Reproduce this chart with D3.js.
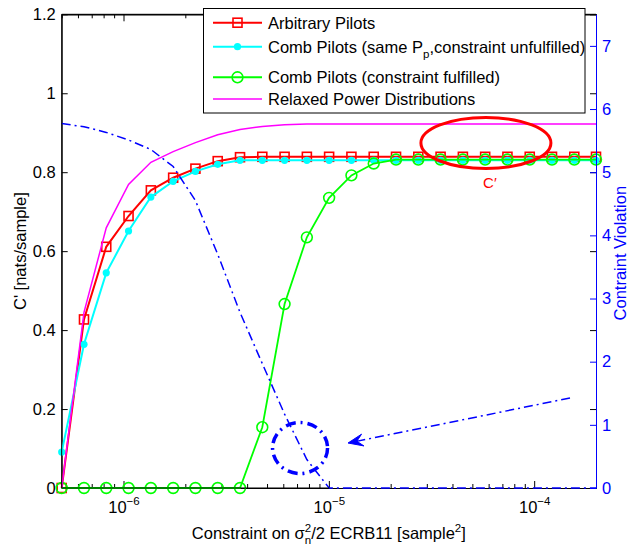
<!DOCTYPE html>
<html><head><meta charset="utf-8">
<script src="https://cdn.jsdelivr.net/npm/d3@7"></script>
<style>
body{margin:0;background:#fff}
svg{display:block}
text{font-family:"Liberation Sans",Arial,Helvetica,sans-serif}
</style>
</head><body>
<svg id="chart" width="629" height="548"></svg>
<script>
// ---------------- data ----------------
const xValues = [5.00e-7, 6.42e-7, 8.24e-7, 1.058e-6, 1.359e-6, 1.745e-6, 2.240e-6, 2.876e-6, 3.693e-6,
  4.741e-6, 6.087e-6, 7.815e-6, 1.003e-5, 1.288e-5, 1.654e-5, 2.124e-5, 2.727e-5, 3.501e-5,
  4.495e-5, 5.771e-5, 7.409e-5, 9.513e-5, 1.221e-4, 1.568e-4, 2.000e-4];
const arbitraryPilots = [0, 0.427, 0.611, 0.689, 0.754, 0.786, 0.809, 0.828, 0.838, 0.839, 0.839, 0.839, 0.839,
  0.839, 0.839, 0.839, 0.839, 0.839, 0.839, 0.839, 0.839, 0.839, 0.839, 0.839, 0.839];
const combUnfulfilled = [0.091, 0.364, 0.545, 0.651, 0.737, 0.777, 0.802, 0.820, 0.830, 0.830, 0.830, 0.830, 0.830,
  0.830, 0.830, 0.830, 0.830, 0.830, 0.830, 0.830, 0.830, 0.830, 0.830, 0.830, 0.830];
const combFulfilled = [0, 0, 0, 0, 0, 0, 0, 0, 0, 0.154, 0.466, 0.635, 0.735,
  0.792, 0.822, 0.832, 0.832, 0.832, 0.832, 0.832, 0.832, 0.832, 0.832, 0.832, 0.832];
const relaxedPower = [0, 0.445, 0.659, 0.769, 0.825, 0.852, 0.875, 0.895, 0.908, 0.916, 0.920, 0.922, 0.922,
  0.922, 0.922, 0.922, 0.922, 0.922, 0.922, 0.922, 0.922, 0.922, 0.922, 0.922, 0.922];
const constraintViolation = [5.77, 5.72, 5.63, 5.51, 5.36, 5.09, 4.55, 3.70, 2.78, 1.97, 1.17, 0.45, 0,
  0, 0, 0, 0, 0, 0, 0, 0, 0, 0, 0, 0];

const leftTicks = [0, 0.2, 0.4, 0.6, 0.8, 1, 1.2];
const leftTickLabels = ["0", "0.2", "0.4", "0.6", "0.8", "1", "1.2"];
const rightTicks = [0, 1, 2, 3, 4, 5, 6, 7];
const xMajorTicks = [1e-6, 1e-5, 1e-4];
const xMajorExponents = ["\u22126", "\u22125", "\u22124"];

const legendLabels = ["Arbitrary Pilots", "Comb Pilots (same P_p,constraint unfulfilled)",
  "Comb Pilots (constraint fulfilled)", "Relaxed Power Distributions"];

// annotation anchors (data coordinates)
const ellipseCenter = [5.82e-5, 0.874];      // left axis units
const circleCenter = [7.24e-6, 0.633];       // right axis units
const arrowFrom = [1.494e-4, 1.425];         // right axis units
const arrowTo = [1.24e-5, 0.712];            // right axis units

// ---------------- layout ----------------
const FS = 16.5, FS_SMALL = 11.5;
const L = 61.7, R = 596, T = 14.3, B = 488;
const svg = d3.select("#chart");
const x = d3.scaleLog().domain([5e-7, 2e-4]).range([L, R]);
const yL = d3.scaleLinear().domain([0, 1.2]).range([B, T]);
const yR = d3.scaleLinear().domain([0, 7.5]).range([B, T]);

const RED = "#ff0000", CYAN = "#00ffff", GREEN = "#00ff00", MAGENTA = "#ff00ff", BLUE = "#0000ff";

svg.append("rect").attr("x", L).attr("y", T).attr("width", R - L).attr("height", B - T).attr("fill", "#fff");

// ---------------- axes ----------------
const minorTicks = x.ticks().filter(v => !xMajorTicks.some(m => Math.abs(m - v) / m < 1e-6));

function styleAxis(g, color) {
  g.attr("font-size", FS).attr("font-family", null);
  g.selectAll("path.domain").attr("stroke", color).attr("stroke-width", 1);
  g.selectAll(".tick line").attr("stroke", color).attr("stroke-width", 1);
  g.selectAll(".tick text").attr("fill", color);
}

svg.append("g").attr("transform", `translate(0,${B})`)
  .call(d3.axisBottom(x).tickValues(minorTicks).tickSizeInner(-4).tickSizeOuter(0).tickFormat(() => ""))
  .call(g => styleAxis(g, "#000"));
const bottomMajor = svg.append("g").attr("transform", `translate(0,${B})`)
  .call(d3.axisBottom(x).tickValues(xMajorTicks).tickSizeInner(-7).tickSizeOuter(0).tickFormat(() => ""))
  .call(g => styleAxis(g, "#000"));
bottomMajor.selectAll(".tick").each(function (d, i) {
  const t = d3.select(this).select("text");
  t.text(null).attr("y", 25).attr("dy", null).attr("text-anchor", "middle").attr("fill", "#000");
  t.append("tspan").text("10");
  t.append("tspan").attr("font-size", FS_SMALL).attr("dy", -8).text(xMajorExponents[i]);
});
svg.append("g").attr("transform", `translate(0,${T})`)
  .call(d3.axisTop(x).tickValues(minorTicks).tickSizeInner(-4).tickSizeOuter(0).tickFormat(() => ""))
  .call(g => styleAxis(g, "#000"));
svg.append("g").attr("transform", `translate(0,${T})`)
  .call(d3.axisTop(x).tickValues(xMajorTicks).tickSizeInner(-7).tickSizeOuter(0).tickFormat(() => ""))
  .call(g => styleAxis(g, "#000"));
svg.append("g").attr("transform", `translate(${L},0)`)
  .call(d3.axisLeft(yL).tickValues(leftTicks).tickSizeInner(-6).tickSizeOuter(0).tickPadding(6)
    .tickFormat((d, i) => leftTickLabels[i]))
  .call(g => styleAxis(g, "#000"));
svg.append("g").attr("transform", `translate(${R},0)`)
  .call(d3.axisRight(yL).tickValues(leftTicks).tickSizeInner(-6).tickSizeOuter(0).tickFormat(() => ""))
  .call(g => styleAxis(g, "#000"));

// ---------------- series ----------------
const idx = d3.range(xValues.length);
const lineOf = (arr, ys) => d3.line().x(i => x(xValues[i])).y(i => ys(arr[i]))(idx);

const plot = svg.append("g");
plot.append("path").attr("d", lineOf(arbitraryPilots, yL)).attr("fill", "none").attr("stroke", RED).attr("stroke-width", 2);
plot.selectAll("rect.sq").data(idx).join("rect").attr("class", "sq")
  .attr("x", i => x(xValues[i]) - 4.5).attr("y", i => yL(arbitraryPilots[i]) - 4.5)
  .attr("width", 9).attr("height", 9).attr("fill", "none").attr("stroke", RED).attr("stroke-width", 1.6);
plot.append("path").attr("d", lineOf(combUnfulfilled, yL)).attr("fill", "none").attr("stroke", CYAN).attr("stroke-width", 2);
plot.selectAll("circle.dot").data(idx).join("circle").attr("class", "dot")
  .attr("cx", i => x(xValues[i])).attr("cy", i => yL(combUnfulfilled[i])).attr("r", 3.6).attr("fill", CYAN);
plot.append("path").attr("d", lineOf(combFulfilled, yL)).attr("fill", "none").attr("stroke", GREEN).attr("stroke-width", 1.8);
plot.selectAll("circle.oc").data(idx).join("circle").attr("class", "oc")
  .attr("cx", i => x(xValues[i])).attr("cy", i => yL(combFulfilled[i])).attr("r", 5.4)
  .attr("fill", "none").attr("stroke", GREEN).attr("stroke-width", 1.6);
plot.append("path").attr("d", lineOf(relaxedPower, yL)).attr("fill", "none").attr("stroke", MAGENTA).attr("stroke-width", 1.5);
plot.append("path").attr("d", lineOf(constraintViolation, yR)).attr("fill", "none").attr("stroke", BLUE)
  .attr("stroke-width", 1.5).attr("stroke-dasharray", "9,4,2,4");

svg.append("line").attr("x1", L).attr("x2", x(xValues[12])).attr("y1", B).attr("y2", B).attr("stroke", "#000");
svg.append("line").attr("x1", L).attr("x2", L).attr("y1", T).attr("y2", B).attr("stroke", "#000");
svg.append("line").attr("x1", L).attr("x2", R).attr("y1", T).attr("y2", T).attr("stroke", "#000");
svg.append("g").attr("transform", `translate(${R},0)`)
  .call(d3.axisRight(yR).tickValues(rightTicks).tickSizeInner(-6).tickSizeOuter(0).tickPadding(6))
  .call(g => styleAxis(g, BLUE));

// ---------------- annotations ----------------
const ann = svg.append("g");
ann.append("ellipse").attr("cx", x(ellipseCenter[0])).attr("cy", yL(ellipseCenter[1]))
  .attr("rx", 65).attr("ry", 25.5).attr("fill", "none").attr("stroke", RED).attr("stroke-width", 3);
ann.append("text").attr("x", x(ellipseCenter[0]) + 4).attr("y", yL(ellipseCenter[1]) + 45)
  .attr("text-anchor", "middle").attr("font-size", 15).attr("fill", RED).text("C\u2032");
ann.append("ellipse").attr("cx", x(circleCenter[0])).attr("cy", yR(circleCenter[1]))
  .attr("rx", 27.5).attr("ry", 25.5).attr("fill", "none").attr("stroke", BLUE).attr("stroke-width", 3.5)
  .attr("stroke-dasharray", "10,5,2,5");
const ax1 = x(arrowFrom[0]), ay1 = yR(arrowFrom[1]), ax2 = x(arrowTo[0]), ay2 = yR(arrowTo[1]);
ann.append("line").attr("x1", ax1).attr("y1", ay1).attr("x2", ax2 + 8).attr("y2", ay2 - 1.6)
  .attr("stroke", BLUE).attr("stroke-width", 1.5).attr("stroke-dasharray", "9,4,2,4");
{
  const ang = Math.atan2(ay1 - ay2, ax1 - ax2);
  const pt = (d, off) => [ax2 + d * Math.cos(ang) - off * Math.sin(ang), ay2 + d * Math.sin(ang) + off * Math.cos(ang)];
  const tip = [ax2, ay2], w1 = pt(15, -6), mid = pt(9, 0), w2 = pt(15, 6);
  ann.append("path").attr("d", `M${tip}L${w1}L${mid}L${w2}Z`).attr("fill", BLUE).attr("stroke", BLUE).attr("stroke-width", 1);
}

// ---------------- axis labels ----------------
svg.append("text").attr("transform", `translate(26,${(T + B) / 2}) rotate(-90)`)
  .attr("text-anchor", "middle").attr("font-size", FS).attr("fill", "#000").text("C' [nats/sample]");
svg.append("text").attr("transform", `translate(626,${(T + B) / 2 + 2}) rotate(-90)`)
  .attr("text-anchor", "middle").attr("font-size", FS).attr("fill", BLUE).text("Contraint Violation");
{
  const t = svg.append("text").attr("x", (L + R) / 2).attr("y", 539).attr("text-anchor", "middle")
    .attr("font-size", FS).attr("fill", "#000");
  t.append("tspan").text("Constraint on \u03c3");
  t.append("tspan").attr("font-size", FS_SMALL).attr("dy", -7).text("2");
  t.append("tspan").attr("font-size", FS_SMALL).attr("dx", -6.4).attr("dy", 12).text("n");
  t.append("tspan").attr("dy", -5).text("/2 ECRB11 [sample");
  t.append("tspan").attr("font-size", FS_SMALL).attr("dy", -7).text("2");
  t.append("tspan").attr("dy", 7).text("]");
}

// ---------------- legend ----------------
const lg = svg.append("g");
lg.append("rect").attr("x", 203.5).attr("y", 8.5).attr("width", 381.5).attr("height", 104.5)
  .attr("fill", "#fff").attr("stroke", "#000").attr("stroke-width", 1);
const legendRows = [22.7, 46.7, 77.3, 99];
const legendColors = [RED, CYAN, GREEN, MAGENTA];
legendRows.forEach((ry, i) => {
  lg.append("line").attr("x1", 213).attr("x2", 262).attr("y1", ry).attr("y2", ry)
    .attr("stroke", legendColors[i]).attr("stroke-width", i === 3 ? 1.5 : 2);
  if (i === 0) lg.append("rect").attr("x", 237.5 - 4.5).attr("y", ry - 4.5).attr("width", 9).attr("height", 9)
    .attr("fill", "none").attr("stroke", RED).attr("stroke-width", 1.6);
  if (i === 1) lg.append("circle").attr("cx", 237.5).attr("cy", ry).attr("r", 3.6).attr("fill", CYAN);
  if (i === 2) lg.append("circle").attr("cx", 237.5).attr("cy", ry).attr("r", 5.4).attr("fill", "none")
    .attr("stroke", GREEN).attr("stroke-width", 1.6);
  const t = lg.append("text").attr("x", 268).attr("y", ry + 6).attr("font-size", FS).attr("fill", "#000");
  const parts = legendLabels[i].split("_");
  if (parts.length === 1) t.text(parts[0]);
  else {
    t.append("tspan").text(parts[0]);
    t.append("tspan").attr("font-size", FS_SMALL).attr("dy", 5).text(parts[1].charAt(0));
    t.append("tspan").attr("dy", -5).text(parts[1].slice(1));
  }
});
</script>
</body></html>
